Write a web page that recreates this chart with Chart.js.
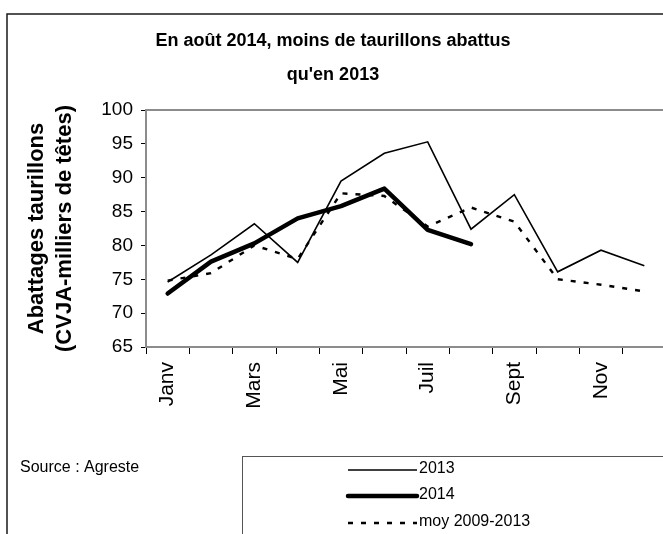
<!DOCTYPE html>
<html lang="fr">
<head>
<meta charset="utf-8">
<title>Abattages taurillons</title>
<script src="https://cdn.jsdelivr.net/npm/chart.js@4.4.1/dist/chart.umd.min.js"></script>
<style>
  html, body { margin: 0; padding: 0; background: #fff; overflow: hidden; }
  #wrap { width: 666px; height: 534px; }
</style>
</head>
<body>
<div id="wrap"><canvas id="chart" width="666" height="534"></canvas></div>
<script>
// months on the x axis (only every other one is shown, like the original)
const months = ['Janv', 'Fév', 'Mars', 'Avr', 'Mai', 'Juin', 'Juil', 'Août', 'Sept', 'Oct', 'Nov', 'Déc'];

// slaughter figures, thousands of head
const values2013 = [74.6, 78.6, 83.2, 77.5, 89.5, 93.6, 95.3, 82.4, 87.5, 76.1, 79.3, 77.0];
const values2014 = [72.9, 77.6, 80.3, 84.0, 85.8, 88.4, 82.3, 80.2, null, null, null, null];
const valuesAvg  = [74.8, 75.9, 80.0, 78.0, 87.7, 87.3, 82.8, 85.6, 83.5, 75.0, 74.2, 73.2];

const seriesLabels = ['2013', '2014', 'moy 2009-2013'];
const titleLines = ['En août 2014, moins de taurillons abattus', "qu'en 2013"];
const yTitleLines = ['Abattages taurillons', '(CVJA-milliers de têtes)'];
const sourceText = 'Source : Agreste';

const FONT = "'Liberation Sans', Arial, sans-serif";

// frame, plot area border, source note and the boxed legend
const decorations = {
    id: 'decorations',
    beforeDatasetsDraw(chart) {
        const { ctx, chartArea } = chart;
        ctx.save();
        ctx.strokeStyle = '#8c8c8c';
        ctx.lineWidth = 2;
        ctx.strokeRect(chartArea.left, chartArea.top, chartArea.right - chartArea.left + 20, chartArea.bottom - chartArea.top);
        ctx.restore();
    },
    afterDraw(chart) {
        const ctx = chart.ctx;
        ctx.save();

        // outer frame (runs off the right and bottom edges)
        ctx.strokeStyle = '#1a1a1a';
        ctx.lineWidth = 1.5;
        ctx.strokeRect(7, 14, 800, 700);

        // source
        ctx.fillStyle = '#000';
        ctx.font = '16px ' + FONT;
        ctx.textBaseline = 'middle';
        ctx.textAlign = 'left';
        ctx.fillText(sourceText, 20, 468);

        // legend box
        ctx.strokeStyle = '#555';
        ctx.lineWidth = 1;
        ctx.strokeRect(242.5, 456.5, 600, 200);

        const rows = [470, 496, 523];
        chart.data.datasets.forEach((ds, i) => {
            const y = rows[i];
            ctx.beginPath();
            ctx.lineWidth = ds.borderWidth;
            ctx.strokeStyle = ds.borderColor;
            ctx.lineCap = i === 1 ? 'round' : 'butt';
            ctx.setLineDash(ds.borderDash || []);
            ctx.moveTo(348, y);
            ctx.lineTo(417, y);
            ctx.stroke();
            ctx.setLineDash([]);
            ctx.fillStyle = '#000';
            ctx.fillText(ds.label, 419, y - 1);
        });

        ctx.restore();
    }
};

new Chart(document.getElementById('chart'), {
    type: 'line',
    data: {
        labels: months,
        datasets: [
            { label: seriesLabels[0], data: values2013, borderColor: '#000', borderWidth: 1.6, pointRadius: 0, tension: 0 },
            { label: seriesLabels[1], data: values2014, borderColor: '#000', borderWidth: 4.5, pointRadius: 0, tension: 0,
              borderCapStyle: 'round', borderJoinStyle: 'round' },
            { label: seriesLabels[2], data: valuesAvg, borderColor: '#000', borderWidth: 2.4, borderDash: [5, 8], pointRadius: 0, tension: 0 }
        ]
    },
    options: {
        responsive: false,
        animation: false,
        devicePixelRatio: 1,
        layout: { padding: { left: 0, right: 0, top: 0, bottom: 0 } },
        plugins: {
            legend: { display: false },
            tooltip: { enabled: false },
            title: {
                display: true,
                text: titleLines,
                color: '#000',
                font: { family: FONT, size: 18, weight: 'bold', lineHeight: 1.9 },
                padding: { top: 24, bottom: 17.6 }
            }
        },
        scales: {
            x: {
                offset: true,
                grid: { offset: true, drawOnChartArea: false, drawTicks: true, tickLength: 7, color: '#000', tickWidth: 1 },
                border: { display: true, color: '#000', width: 1.5 },
                ticks: {
                    autoSkip: false,
                    maxRotation: 90,
                    minRotation: 90,
                    padding: 8,
                    color: '#000',
                    font: { family: FONT, size: 21 },
                    callback(value, index) { return index % 2 === 0 ? this.getLabelForValue(value) : ''; }
                },
                afterFit(scale) {
                    scale.height = 534 - 347;
                    scale.paddingLeft = 0;
                    scale.paddingRight = 0;
                }
            },
            y: {
                min: 65,
                max: 100,
                grid: { drawOnChartArea: false, drawTicks: true, tickLength: 5, color: '#000', tickWidth: 1 },
                border: { display: true, color: '#000', width: 1.5 },
                ticks: { stepSize: 5, padding: 8, color: '#000', font: { family: FONT, size: 19 } },
                title: {
                    display: true,
                    text: yTitleLines,
                    color: '#000',
                    font: { family: FONT, size: 22, weight: 'bold', lineHeight: 1.27 },
                    padding: { top: 23, bottom: 0 }
                },
                afterFit(scale) { scale.width = 146; }
            }
        }
    },
    plugins: [decorations]
});
</script>
</body>
</html>
